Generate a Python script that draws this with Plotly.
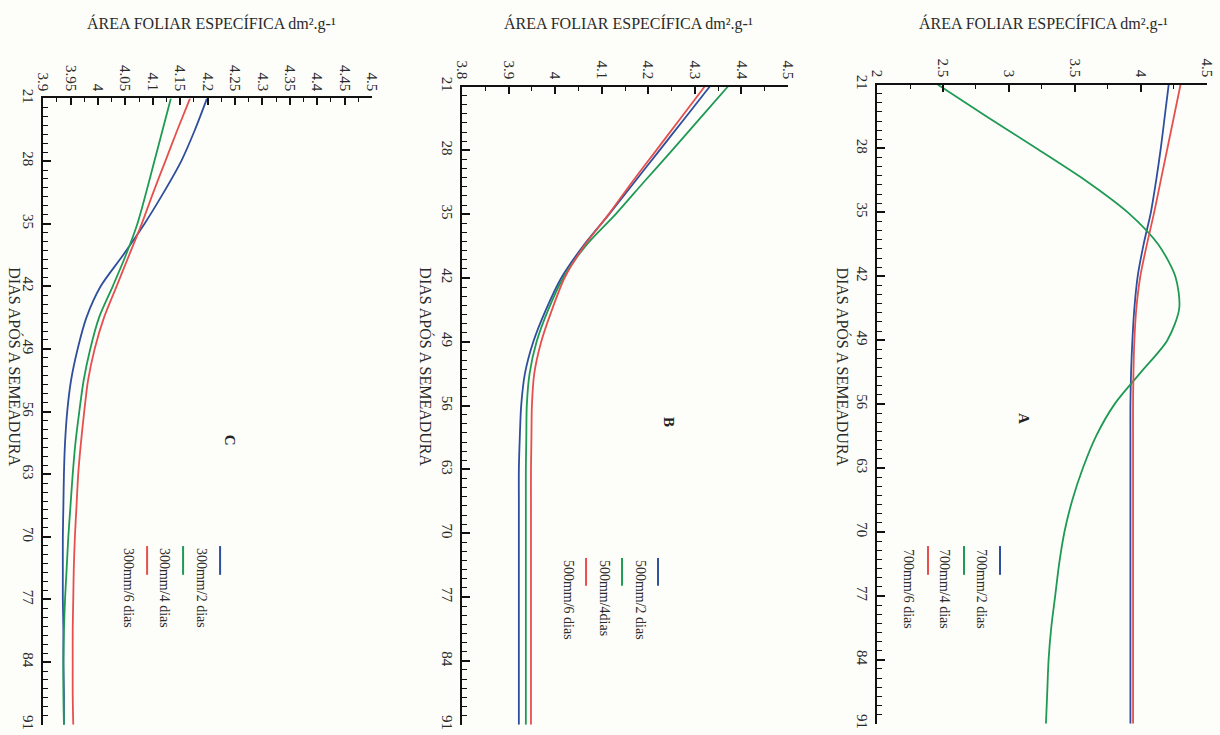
import plotly.graph_objects as go

# Figure size; the page shows the figure offset by the body margin and slightly scaled,
# so reference pixel positions are mapped through that transform.
FW, FH = 1220, 735
OX, OY = 8, 8
S = 0.987

# ---------------- data ----------------
days = [21, 24.5, 28, 31.5, 35, 38.5, 42, 45.5, 49, 52.5, 56, 59.5, 63, 66.5,
        70, 73.5, 77, 80.5, 84, 87.5, 91]
day_ticks = [21, 28, 35, 42, 49, 56, 63, 70, 77, 84, 91]

a_names = ["700mm/2 dias", "700mm/4 dias", "700mm/6 dias"]
a_2d = [4.21, 4.18, 4.15, 4.115, 4.075, 4.02, 3.975, 3.95, 3.935, 3.925, 3.92, 3.92,
        3.92, 3.92, 3.92, 3.92, 3.92, 3.92, 3.92, 3.92, 3.92]
a_4d = [2.46, 2.83, 3.21, 3.58, 3.90, 4.13, 4.26, 4.29, 4.20, 4.00, 3.80, 3.66,
        3.56, 3.48, 3.42, 3.38, 3.35, 3.32, 3.30, 3.29, 3.28]
a_6d = [4.30, 4.25, 4.20, 4.15, 4.10, 4.045, 3.995, 3.965, 3.95, 3.943, 3.94, 3.94,
        3.94, 3.94, 3.94, 3.94, 3.94, 3.94, 3.94, 3.94, 3.94]
a_ticks = [2, 2.5, 3, 3.5, 4, 4.5]
a_ticklabels = ["2", "2.5", "3", "3.5", "4", "4.5"]

b_names = ["500mm/2 dias", "500mm/4dias", "500mm/6 dias"]
b_2d = [4.332, 4.278, 4.224, 4.17, 4.116, 4.06, 4.013, 3.98, 3.953, 3.935, 3.927,
        3.924, 3.922, 3.922, 3.922, 3.922, 3.922, 3.922, 3.922, 3.922, 3.922]
b_4d = [4.371, 4.311, 4.251, 4.19, 4.13, 4.065, 4.017, 3.985, 3.96, 3.945, 3.939,
        3.938, 3.937, 3.937, 3.937, 3.937, 3.937, 3.937, 3.937, 3.937, 3.937]
b_6d = [4.321, 4.269, 4.217, 4.165, 4.115, 4.062, 4.02, 3.993, 3.97, 3.955, 3.95,
        3.949, 3.948, 3.948, 3.948, 3.948, 3.948, 3.948, 3.948, 3.948, 3.948]
b_ticks = [3.8, 3.9, 4.0, 4.1, 4.2, 4.3, 4.4, 4.5]
b_ticklabels = ["3.8", "3.9", "4", "4.1", "4.2", "4.3", "4.4", "4.5"]

c_names = ["300mm/2 dias", "300mm/4 dias", "300mm/6 dias"]
c_2d = [4.199, 4.177, 4.152, 4.12, 4.085, 4.046, 4.005, 3.979, 3.963, 3.951, 3.944,
        3.94, 3.938, 3.937, 3.936, 3.936, 3.936, 3.937, 3.937, 3.938, 3.938]
c_4d = [4.133, 4.118, 4.103, 4.088, 4.072, 4.051, 4.027, 4.002, 3.986, 3.974, 3.966,
        3.959, 3.954, 3.95, 3.946, 3.943, 3.94, 3.938, 3.937, 3.937, 3.938]
c_6d = [4.168, 4.145, 4.123, 4.101, 4.08, 4.057, 4.034, 4.011, 3.994, 3.982, 3.975,
        3.969, 3.964, 3.961, 3.958, 3.956, 3.955, 3.954, 3.954, 3.954, 3.955]
c_ticks = [3.9, 3.95, 4.0, 4.05, 4.1, 4.15, 4.2, 4.25, 4.3, 4.35, 4.4, 4.45, 4.5]
c_ticklabels = ["3.9", "3.95", "4", "4.05", "4.1", "4.15", "4.2", "4.25", "4.3",
                "4.35", "4.4", "4.45", "4.5"]

colors = ["#2f4e9e", "#1f9a55", "#e5504f"]
title_txt = "ÁREA FOLIAR ESPECÍFICA dm².g-¹"
xlab_txt = "DIAS APÓS A SEMEADURA"

def clamp(v):
    return max(0.0, min(1.0, v))

def px(x):
    return (x / S - OX) / FW

def py(y):
    return 1 - (y / S - OY) / FH

FONT = "Liberation Serif"
TXT = "#2a2a2a"

panels = [
    dict(xa="x", ya="y", series=[a_2d, a_4d, a_6d], names=a_names, ticks=a_ticks,
         labels=a_ticklabels, rng=[2, 4.5], minor=0.25, x0=877, x1=1207, yt=83, yb=727,
         letter="A", lpos=(1024, 420), title_x=1044, daylab_x=843,
         leg_line_x=[1000, 964, 928], leg_txt_x=[982, 945, 909], leg_y=(548, 577), leg_ty=549),
    dict(xa="x2", ya="y2", series=[b_2d, b_4d, b_6d], names=b_names, ticks=b_ticks,
         labels=b_ticklabels, rng=[3.8, 4.5], minor=0.05, x0=462, x1=788, yt=85, yb=728,
         letter="B", lpos=(669, 423), title_x=628, daylab_x=426,
         leg_line_x=[658, 622, 586], leg_txt_x=[640, 604, 568], leg_y=(560, 588), leg_ty=560),
    dict(xa="x3", ya="y3", series=[c_2d, c_4d, c_6d], names=c_names, ticks=c_ticks,
         labels=c_ticklabels, rng=[3.9, 4.5], minor=0.025, x0=43, x1=372, yt=97, yb=728,
         letter="C", lpos=(230, 441), title_x=211, daylab_x=14,
         leg_line_x=[220, 183, 147], leg_txt_x=[202, 165, 129], leg_y=(548, 577), leg_ty=548),
]

fig = go.Figure()
annotations = []
shapes = []
layout = {}

for i, p in enumerate(panels):
    for s, name, col in zip(p["series"], p["names"], colors):
        fig.add_trace(go.Scatter(x=s, y=days, mode="lines", name=name,
                                 line=dict(color=col, width=1.8, shape="spline", smoothing=0.8),
                                 xaxis=p["xa"], yaxis=p["ya"], showlegend=False))
    xk = "xaxis" if i == 0 else f"xaxis{i+1}"
    yk = "yaxis" if i == 0 else f"yaxis{i+1}"
    layout[xk] = dict(
        domain=[clamp(px(p["x0"])), clamp(px(p["x1"]))], anchor=p["ya"], side="top",
        range=p["rng"], tickmode="array", tickvals=p["ticks"], ticktext=p["labels"],
        tickangle=90, ticks="inside", ticklen=7, tickwidth=1.5, tickcolor="#111",
        showline=True, linecolor="#111", linewidth=2, showgrid=False, zeroline=False,
        tickfont=dict(family=FONT, size=15, color=TXT),
        minor=dict(dtick=p["minor"], tick0=p["rng"][0], ticks="inside", ticklen=4,
                   tickwidth=1.3, tickcolor="#111", showgrid=False),
        fixedrange=True,
    )
    layout[yk] = dict(
        domain=[clamp(py(p["yb"])), clamp(py(p["yt"]))], anchor=p["xa"], range=[91, 21],
        tickmode="array", tickvals=day_ticks, ticktext=[str(d) for d in day_ticks],
        tickangle=90, ticks="inside", ticklen=8, tickwidth=1.5, tickcolor="#111",
        showline=True, linecolor="#111", linewidth=2, showgrid=False, zeroline=False,
        tickfont=dict(family=FONT, size=15, color=TXT),
        minor=dict(dtick=1, tick0=21, ticks="inside", ticklen=5, tickwidth=1.3,
                   tickcolor="#111", showgrid=False),
        fixedrange=True,
    )
    annotations.append(dict(x=px(p["title_x"]), y=py(21), xref="paper", yref="paper",
                            text=title_txt, showarrow=False, xanchor="center", yanchor="middle",
                            font=dict(family=FONT, size=16, color=TXT)))
    annotations.append(dict(x=px(p["daylab_x"]), y=py(367), xref="paper", yref="paper",
                            text=xlab_txt, showarrow=False, textangle=90,
                            xanchor="center", yanchor="middle",
                            font=dict(family=FONT, size=16, color=TXT)))
    annotations.append(dict(x=px(p["lpos"][0]), y=py(p["lpos"][1]), xref="paper", yref="paper",
                            text="<b>" + p["letter"] + "</b>", showarrow=False, textangle=90,
                            xanchor="center", yanchor="middle",
                            font=dict(family=FONT, size=15, color="#222")))
    for lx, tx, name, col in zip(p["leg_line_x"], p["leg_txt_x"], p["names"], colors):
        shapes.append(dict(type="line", xref="paper", yref="paper",
                           x0=px(lx), x1=px(lx), y0=py(p["leg_y"][0]), y1=py(p["leg_y"][1]),
                           line=dict(color=col, width=2)))
        annotations.append(dict(x=px(tx), y=py(p["leg_ty"]), xref="paper", yref="paper",
                                text=name, showarrow=False, textangle=90,
                                xanchor="center", yanchor="top",
                                font=dict(family=FONT, size=14, color=TXT)))

fig.update_layout(
    width=FW, height=FH, margin=dict(l=0, r=0, t=0, b=0),
    paper_bgcolor="#fdfdf9", plot_bgcolor="#fdfdf9",
    showlegend=False, annotations=annotations, shapes=shapes, **layout,
)

fig.write_html("out.html", config={"displayModeBar": False})
